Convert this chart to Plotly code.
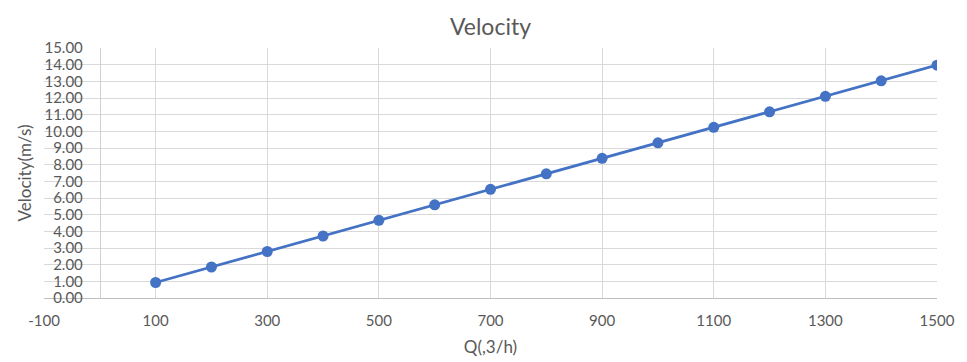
import plotly.graph_objects as go

q_values = [100, 200, 300, 400, 500, 600, 700, 800, 900, 1000, 1100, 1200, 1300, 1400, 1500]
velocity = [0.93, 1.86, 2.79, 3.72, 4.66, 5.59, 6.52, 7.45, 8.38, 9.31, 10.24, 11.17, 12.10, 13.03, 13.97]
x_tick_vals = [-100, 100, 300, 500, 700, 900, 1100, 1300, 1500]
x_tick_labels = ["-100", "100", "300", "500", "700", "900", "1100", "1300", "1500"]

FONT = "Lato"
GREY = "#595959"

fig = go.Figure(go.Scatter(
    x=q_values, y=velocity, mode="lines+markers",
    line=dict(color="#4472C4", width=2.75),
    marker=dict(color="#4472C4", size=11),
    showlegend=False,
))

# page body has an 8px offset; margins compensate for it
W, H = 967, 362
ml, mr, mt, mb = 36, 38, 40, 72
xmin, xmax = -100, 1500
ypos = (0 - xmin) / (xmax - xmin)

fig.update_layout(
    width=W, height=H,
    margin=dict(l=ml, r=mr, t=mt, b=mb, autoexpand=False),
    paper_bgcolor="white", plot_bgcolor="white",
    font=dict(family=FONT, color=GREY),
    title=dict(text="Velocity", x=(ml + (W - ml - mr) / 2) / W, xanchor="center",
               y=1 - 19 / H, yanchor="middle",
               font=dict(size=23, color=GREY, family=FONT)),
    xaxis=dict(
        range=[xmin, xmax], tickvals=x_tick_vals, ticktext=x_tick_labels,
        showgrid=True, gridcolor="#d9d9d9", gridwidth=1,
        zeroline=False, showline=True, linecolor="#bfbfbf", linewidth=1,
        ticks="", ticklabelstandoff=9, tickfont=dict(size=15, color=GREY),
        title=dict(text="Q(,3/h)", font=dict(size=17, color=GREY), standoff=13),
    ),
    yaxis=dict(
        range=[0, 15], dtick=1, tickformat=".2f",
        anchor="free", position=ypos,
        showgrid=True, gridcolor="#d9d9d9", gridwidth=1,
        zeroline=False, showline=True, linecolor="#d0d0d0", linewidth=1,
        ticks="", ticklabelstandoff=14, tickfont=dict(size=15, color=GREY),
        title=dict(text="Velocity(m/s)", font=dict(size=17, color=GREY), standoff=7),
    ),
)

fig.write_html("out.html")
